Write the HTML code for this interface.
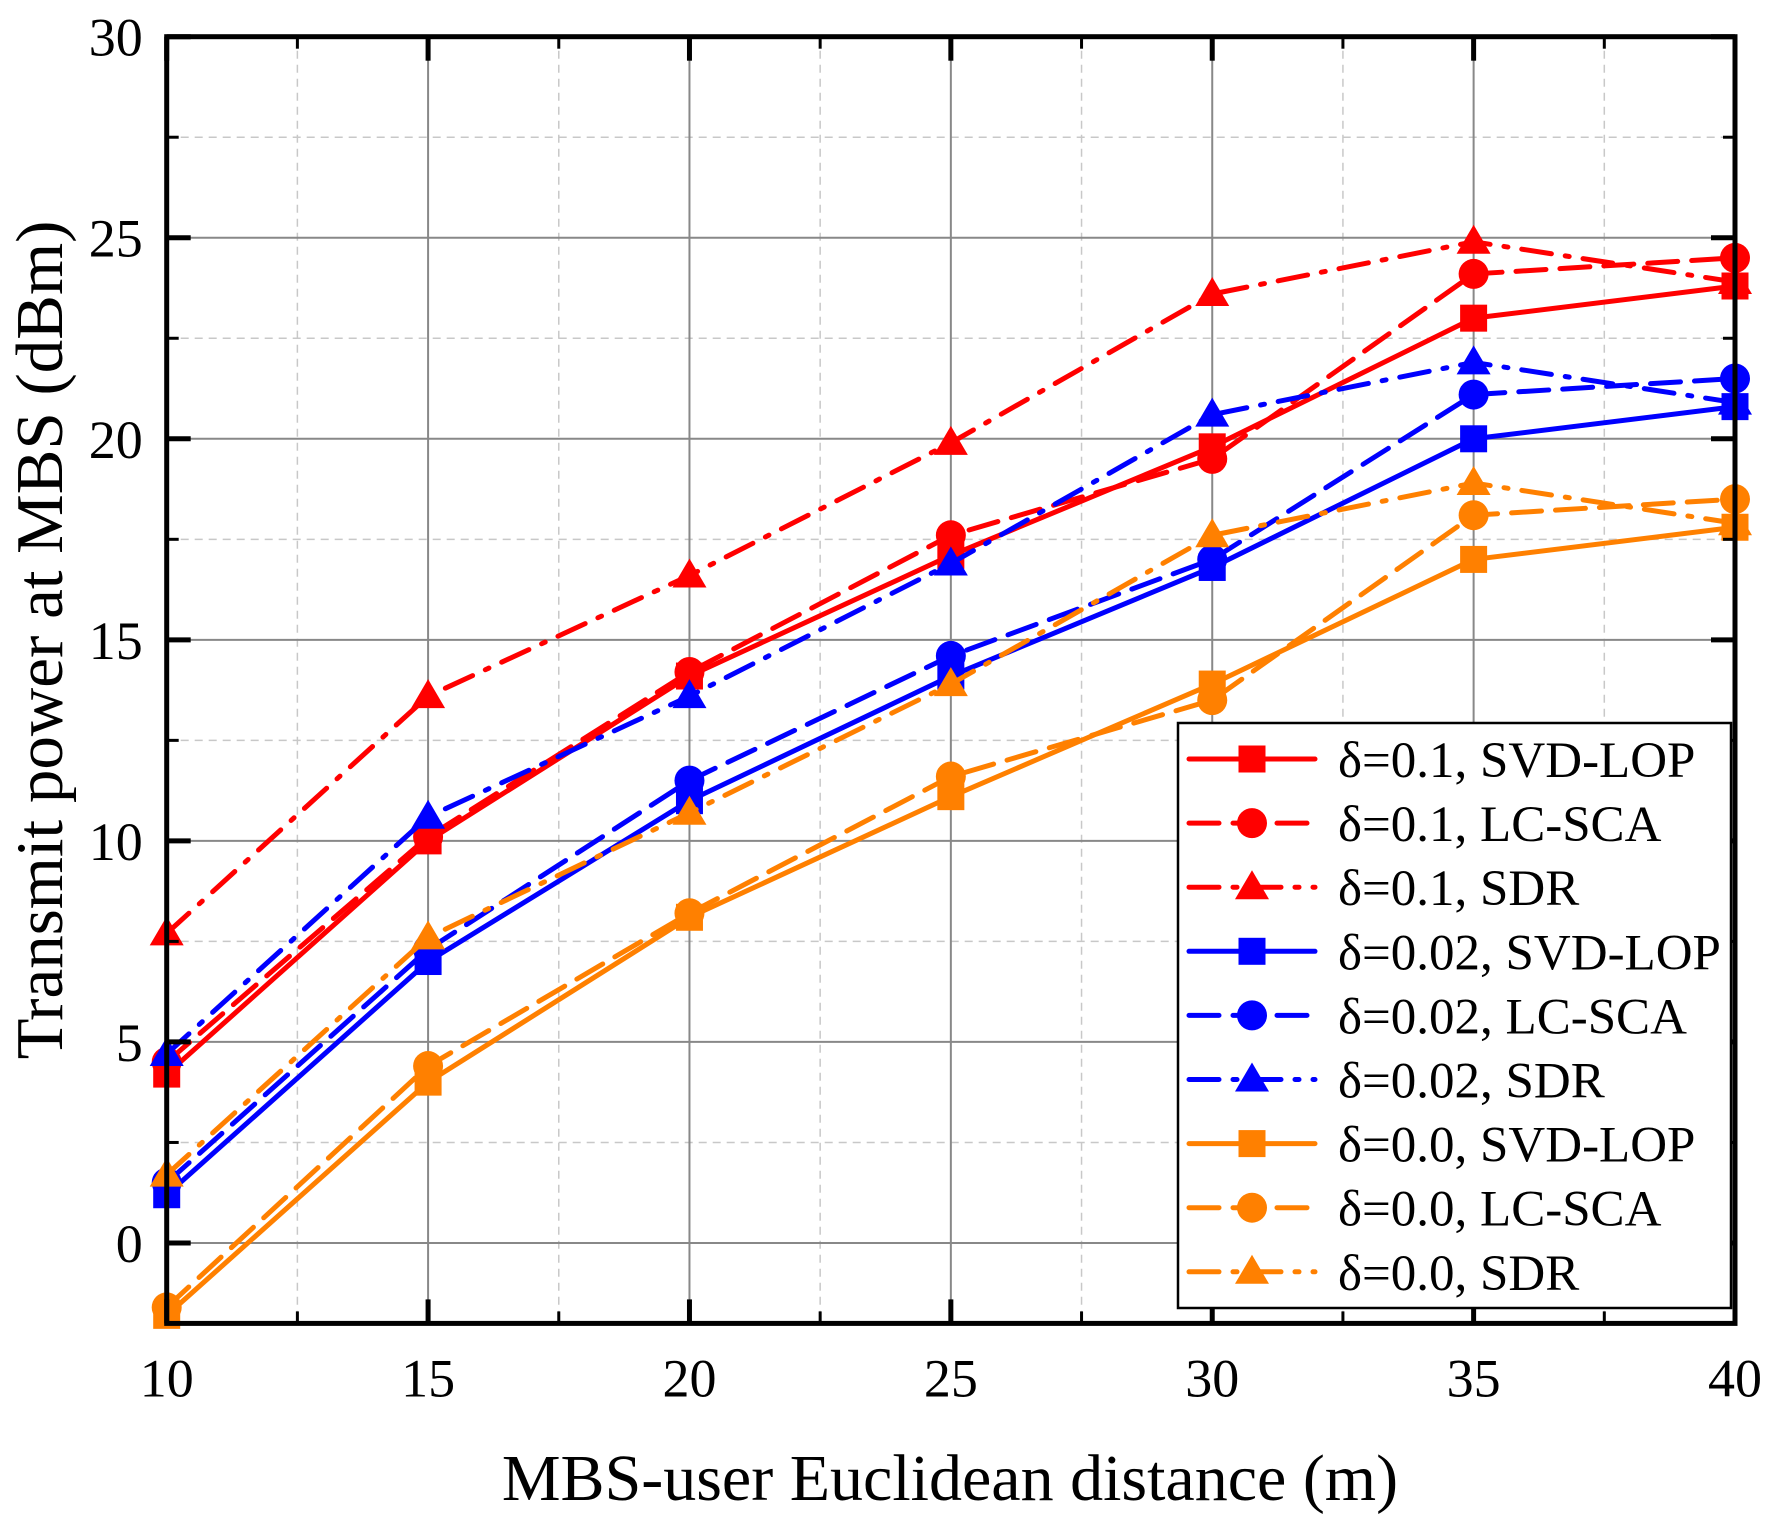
<!DOCTYPE html>
<html><head><meta charset="utf-8"><style>
html,body{margin:0;padding:0;background:#fff;}
svg{display:block;font-family:"Liberation Serif",serif;}
</style></head><body>
<svg id="chart" width="1768" height="1520" viewBox="0 0 1768 1520" xmlns="http://www.w3.org/2000/svg">
<g id="grid"></g>
<g id="series"></g>
<g id="axes"></g>
<g id="legend"></g>
<text transform="translate(62,640) rotate(-90)" text-anchor="middle" font-size="67">Transmit power at MBS (dBm)</text>
<text x="950" y="1500" text-anchor="middle" font-size="66">MBS-user Euclidean distance (m)</text>
</svg>
<script>
const xCats = [10, 15, 20, 25, 30, 35, 40];
const xTicks = ["10","15","20","25","30","35","40"];
const yTicks = [0, 5, 10, 15, 20, 25, 30];
const d01_svd = [4.2, 10.0, 14.1, 17.1, 19.8, 23.0, 23.8];
const d01_lc  = [4.5, 10.1, 14.2, 17.6, 19.5, 24.1, 24.5];
const d01_sdr = [7.7, 13.6, 16.6, 19.9, 23.6, 24.9, 23.9];
const d002_svd = [1.2, 7.0, 11.0, 14.1, 16.8, 20.0, 20.8];
const d002_lc  = [1.5, 7.3, 11.5, 14.6, 17.0, 21.1, 21.5];
const d002_sdr = [4.7, 10.6, 13.6, 16.9, 20.6, 21.9, 20.9];
const d0_svd = [-1.8, 4.0, 8.1, 11.1, 13.9, 17.0, 17.8];
const d0_lc  = [-1.6, 4.4, 8.2, 11.6, 13.5, 18.1, 18.5];
const d0_sdr = [1.7, 7.6, 10.7, 13.9, 17.6, 18.9, 17.9];
const legendLabels = ["δ=0.1, SVD-LOP","δ=0.1, LC-SCA","δ=0.1, SDR","δ=0.02, SVD-LOP","δ=0.02, LC-SCA","δ=0.02, SDR","δ=0.0, SVD-LOP","δ=0.0, LC-SCA","δ=0.0, SDR"];

const NS="http://www.w3.org/2000/svg";
const L=166.7,R=1735,T=36.7,B=1323.4, xMin=10,xMax=40,yMin=-2,yMax=30;
const xs=v=>L+(v-xMin)/(xMax-xMin)*(R-L);
const ys=v=>B-(v-yMin)/(yMax-yMin)*(B-T);
function mk(tag,attrs,parent){const e=document.createElementNS(NS,tag);for(const k in attrs)e.setAttribute(k,attrs[k]);parent.appendChild(e);return e;}
const grid=document.getElementById('grid'),axes=document.getElementById('axes'),ser=document.getElementById('series'),leg=document.getElementById('legend');

for(let v=12.5;v<40;v+=5){const g=mk('line',{x1:xs(v),x2:xs(v),y1:T,y2:B,stroke:'#c8c8c8','stroke-width':1.5,'stroke-dasharray':'8 6'},grid);}
for(let v=2.5;v<30;v+=5){const g=mk('line',{x1:L,x2:R,y1:ys(v),y2:ys(v),stroke:'#c8c8c8','stroke-width':1.5,'stroke-dasharray':'8 6'},grid);}
xCats.forEach(v=>{if(v>xMin&&v<xMax){const g=mk('line',{x1:xs(v),x2:xs(v),y1:T,y2:B,stroke:'#888','stroke-width':2},grid);}});
yTicks.forEach(v=>{if(v<yMax){const g=mk('line',{x1:L,x2:R,y1:ys(v),y2:ys(v),stroke:'#888','stroke-width':2},grid);}});

const series=[
 [d01_svd,'red','none','square'],[d01_lc,'red','30 14','circle'],[d01_sdr,'red','30 14 4 14','triangle'],
 [d002_svd,'#0000ff','none','square'],[d002_lc,'#0000ff','30 14','circle'],[d002_sdr,'#0000ff','30 14 4 14','triangle'],
 [d0_svd,'#ff8000','none','square'],[d0_lc,'#ff8000','30 14','circle'],[d0_sdr,'#ff8000','30 14 4 14','triangle']];
function marker(shape,cx,cy,col,parent){
  let m;
  if(shape==='square')m=mk('rect',{x:cx-13.5,y:cy-13.5,width:27,height:27,fill:col},parent);
  else if(shape==='circle')m=mk('circle',{cx:cx,cy:cy,r:15,fill:col},parent);
  else m=mk('polygon',{points:`${cx},${cy-17} ${cx+17},${cy+12} ${cx-17},${cy+12}`,fill:col},parent);
  
  
}
series.forEach((s,i)=>{
  const [vals,col,dash,shape]=s;
  const g=mk('g',{},ser);
  
  
  const pts=vals.map((v,j)=>xs(xCats[j])+','+ys(v)).join(' ');
  const p=mk('polyline',{points:pts,fill:'none',stroke:col,'stroke-width':5,'stroke-linecap':'round','stroke-linejoin':'round','stroke-dasharray':dash==='none'?'':dash},g);
  
  
  vals.forEach((v,j)=>marker(shape,xs(xCats[j]),ys(v),col,g));
});

const fr=mk('rect',{x:L,y:T,width:R-L,height:B-T,fill:'none',stroke:'#000','stroke-width':5},axes);

xCats.forEach((v,i)=>{
  mk('line',{x1:xs(v),x2:xs(v),y1:B,y2:B-24,stroke:'#000','stroke-width':5},axes);
  mk('line',{x1:xs(v),x2:xs(v),y1:T,y2:T+24,stroke:'#000','stroke-width':5},axes);
  const t=mk('text',{x:xs(v),y:B+73,'text-anchor':'middle','font-size':54},axes);t.textContent=xTicks[i];
  
});
yTicks.forEach(v=>{
  mk('line',{x1:L,x2:L+24,y1:ys(v),y2:ys(v),stroke:'#000','stroke-width':5},axes);
  mk('line',{x1:R,x2:R-24,y1:ys(v),y2:ys(v),stroke:'#000','stroke-width':5},axes);
  const t=mk('text',{x:L-24,y:ys(v)+19,'text-anchor':'end','font-size':54},axes);t.textContent=String(v);
  
});
for(let v=2.5;v<30;v+=5){mk('line',{x1:L,x2:L+12,y1:ys(v),y2:ys(v),stroke:'#000','stroke-width':3},axes);mk('line',{x1:R,x2:R-12,y1:ys(v),y2:ys(v),stroke:'#000','stroke-width':3},axes);}
for(let v=12.5;v<40;v+=5){mk('line',{x1:xs(v),x2:xs(v),y1:B,y2:B-12,stroke:'#000','stroke-width':3},axes);mk('line',{x1:xs(v),x2:xs(v),y1:T,y2:T+12,stroke:'#000','stroke-width':3},axes);}

const lb=mk('rect',{x:1178,y:723,width:553,height:585,fill:'#fff',stroke:'#000','stroke-width':2.5},leg);

series.forEach((s,i)=>{
  const [vals,col,dash,shape]=s;
  const cy=759+i*64.1;
  const g=mk('g',{},leg);
  
  
  mk('line',{x1:1189,x2:1315,y1:cy,y2:cy,stroke:col,'stroke-width':5,'stroke-linecap':'round','stroke-dasharray':dash==='none'?'':dash},g);
  marker(shape,1252,cy,col,g);
  const t=mk('text',{x:1338,y:cy+18,'font-size':51},g);t.textContent=legendLabels[i];
  
});
</script>
</body></html>
